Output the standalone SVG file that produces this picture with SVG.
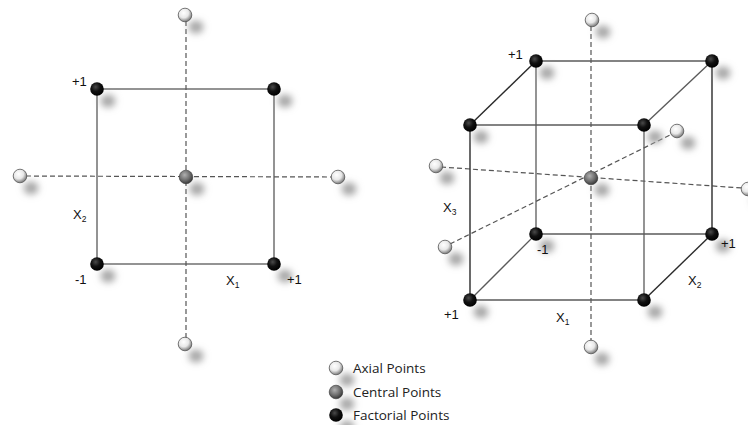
<svg xmlns="http://www.w3.org/2000/svg" width="748" height="425" viewBox="0 0 748 425">
  <defs>
    <radialGradient id="gAxial" cx="0.4" cy="0.35" r="0.65">
      <stop offset="0" stop-color="#ffffff"/>
      <stop offset="0.55" stop-color="#e8e8e8"/>
      <stop offset="1" stop-color="#7a7a7a"/>
    </radialGradient>
    <radialGradient id="gCentral" cx="0.4" cy="0.35" r="0.65">
      <stop offset="0" stop-color="#b0b0b0"/>
      <stop offset="0.6" stop-color="#6e6e6e"/>
      <stop offset="1" stop-color="#3a3a3a"/>
    </radialGradient>
    <radialGradient id="gFactorial" cx="0.4" cy="0.35" r="0.65">
      <stop offset="0" stop-color="#4a4a4a"/>
      <stop offset="0.5" stop-color="#111111"/>
      <stop offset="1" stop-color="#000000"/>
    </radialGradient>
    <filter id="soft" x="-100%" y="-100%" width="300%" height="300%">
      <feGaussianBlur stdDeviation="3.5"/>
    </filter>
    <!-- one ball with its drop shadow, per kind -->
    <g id="axial">
      <ellipse cx="11" cy="12" rx="7.5" ry="6.5" fill="#a4a4a4" filter="url(#soft)"/>
      <circle r="6.8" fill="url(#gAxial)" stroke="#555" stroke-width="0.8"/>
    </g>
    <g id="central">
      <ellipse cx="11" cy="12" rx="7.5" ry="6.5" fill="#a4a4a4" filter="url(#soft)"/>
      <circle r="6.8" fill="url(#gCentral)" stroke="#333" stroke-width="0.6"/>
    </g>
    <g id="factorial">
      <ellipse cx="11" cy="12" rx="7.5" ry="6.5" fill="#a4a4a4" filter="url(#soft)"/>
      <circle r="6.8" fill="url(#gFactorial)"/>
    </g>
  </defs>
  <style>
    .edge { stroke: #5a5a5a; stroke-width: 1.3; fill: none; }
    .edge-dark { stroke: #2a2a2a; stroke-width: 1.4; fill: none; }
    .axis { stroke: #555; stroke-width: 1.2; stroke-dasharray: 5 3; fill: none; }
    .lbl { font-family: "Liberation Sans", Arial, sans-serif; font-size: 13px; fill: #111; }
    .sub { font-size: 8.5px; }
    .leg { font-family: "Open Sans", "Liberation Sans", sans-serif; font-size: 13.5px; fill: #222; }
  </style>
  <rect width="748" height="425" fill="#ffffff"/>

  <!-- connectors -->
  <g id="connectors">
    <!-- 2D design -->
    <line class="axis" x1="186" y1="21" x2="186" y2="338"/>
    <line class="axis" x1="26" y1="176" x2="332" y2="177"/>
    <rect class="edge" x="97" y="89" width="177" height="175"/>
    <!-- 3D design -->
    <line class="axis" x1="591" y1="26" x2="591" y2="341"/>
    <line class="axis" x1="441" y1="167" x2="742" y2="188"/>
    <line class="axis" x1="450" y1="244" x2="672" y2="134"/>
    <line class="edge" x1="536" y1="61" x2="712" y2="61"/>
    <line class="edge" x1="470" y1="125" x2="644" y2="125"/>
    <line class="edge" x1="536" y1="234" x2="712" y2="234"/>
    <line class="edge" x1="470" y1="300" x2="644" y2="300"/>
    <line class="edge" x1="536" y1="61" x2="536" y2="234"/>
    <line class="edge-dark" x1="712" y1="61" x2="712" y2="234"/>
    <line class="edge-dark" x1="470" y1="125" x2="470" y2="300"/>
    <line class="edge" x1="644" y1="125" x2="644" y2="300"/>
    <line class="edge-dark" x1="536" y1="61" x2="470" y2="125"/>
    <line class="edge" x1="712" y1="61" x2="644" y2="125"/>
    <line class="edge" x1="536" y1="234" x2="470" y2="300"/>
    <line class="edge-dark" x1="712" y1="234" x2="644" y2="300"/>
  </g>

  <!-- 2D design points -->
  <g id="sq-axial-top"><use href="#axial" x="185" y="15"/></g>
  <g id="sq-axial-left"><use href="#axial" x="20" y="176"/></g>
  <g id="sq-axial-right"><use href="#axial" x="338" y="177"/></g>
  <g id="sq-axial-bottom"><use href="#axial" x="185" y="344"/></g>
  <g id="sq-center"><use href="#central" x="186" y="177"/></g>
  <g id="sq-tl"><use href="#factorial" x="97" y="89"/></g>
  <g id="sq-tr"><use href="#factorial" x="274" y="89"/></g>
  <g id="sq-bl"><use href="#factorial" x="97" y="264"/></g>
  <g id="sq-br"><use href="#factorial" x="274" y="264"/></g>

  <!-- 3D design points -->
  <g id="cb-axial-top"><use href="#axial" x="592" y="20"/></g>
  <g id="cb-axial-bottom"><use href="#axial" x="591" y="347"/></g>
  <g id="cb-axial-left"><use href="#axial" x="436" y="166"/></g>
  <g id="cb-axial-right"><use href="#axial" x="748" y="189"/></g>
  <g id="cb-axial-back"><use href="#axial" x="677" y="131"/></g>
  <g id="cb-axial-front"><use href="#axial" x="445" y="247"/></g>
  <g id="cb-center"><use href="#central" x="591" y="178"/></g>
  <g id="cb-btl"><use href="#factorial" x="536" y="61"/></g>
  <g id="cb-btr"><use href="#factorial" x="712" y="61"/></g>
  <g id="cb-ftl"><use href="#factorial" x="470" y="125"/></g>
  <g id="cb-ftr"><use href="#factorial" x="644" y="125"/></g>
  <g id="cb-bbl"><use href="#factorial" x="536" y="234"/></g>
  <g id="cb-bbr"><use href="#factorial" x="712" y="234"/></g>
  <g id="cb-fbl"><use href="#factorial" x="470" y="300"/></g>
  <g id="cb-fbr"><use href="#factorial" x="644" y="300"/></g>

  <!-- labels -->
  <g id="labels">
    <text class="lbl" x="72" y="86">+1</text>
    <text class="lbl" x="73" y="219">X<tspan class="sub" dy="3">2</tspan></text>
    <text class="lbl" x="75" y="284">-1</text>
    <text class="lbl" x="226" y="285">X<tspan class="sub" dy="3">1</tspan></text>
    <text class="lbl" x="287" y="284">+1</text>

    <text class="lbl" x="508" y="59">+1</text>
    <text class="lbl" x="443" y="212">X<tspan class="sub" dy="3">3</tspan></text>
    <text class="lbl" x="537" y="254">-1</text>
    <text class="lbl" x="721" y="248">+1</text>
    <text class="lbl" x="688" y="285">X<tspan class="sub" dy="3">2</tspan></text>
    <text class="lbl" x="444" y="319">+1</text>
    <text class="lbl" x="556" y="322">X<tspan class="sub" dy="3">1</tspan></text>
  </g>

  <!-- legend -->
  <g id="legend">
    <g id="legend-axial"><use href="#axial" x="336" y="368"/><text class="leg" x="353" y="373">Axial Points</text></g>
    <g id="legend-central"><use href="#central" x="336" y="392"/><text class="leg" x="353" y="397">Central Points</text></g>
    <g id="legend-factorial"><use href="#factorial" x="336" y="415"/><text class="leg" x="353" y="420">Factorial Points</text></g>
  </g>
</svg>
